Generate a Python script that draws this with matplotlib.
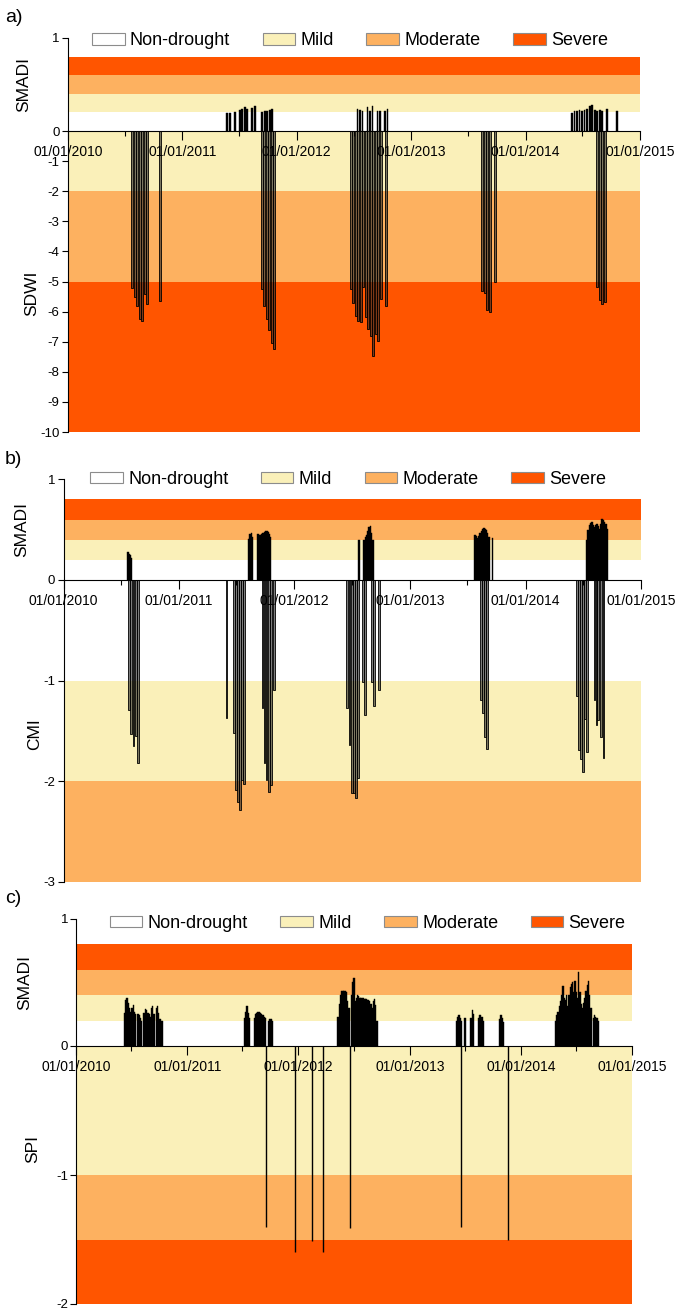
import numpy as np
import matplotlib
matplotlib.use('Agg')
import matplotlib.pyplot as plt
import matplotlib.dates as mdates
from matplotlib.patches import Patch

plt.rcParams['font.family'] = ['Liberation Sans', 'DejaVu Sans']

MILD = '#FAF0B9'
MODERATE = '#FDB160'
SEVERE = '#FF5500'

# ---- SMADI clusters: (first date, values at regular steps, None = no drought)
smadi_a = [
    ('2011-05-24', [0.197, 0.197, None, 0.207, None, 0.226, 0.237, 0.262, 0.237, None, 0.25, 0.27,
                    None, None, 0.207, 0.22, 0.22, 0.226, 0.233]),
    ('2012-07-13', [0.24, 0.23, 0.21, None, 0.26, 0.22, 0.265, None, 0.21, 0.21, None, 0.21, 0.24]),
    ('2014-05-29', [0.197, 0.21, 0.22, 0.226, 0.21, 0.23, 0.24, 0.265, 0.276, 0.23, 0.22, 0.225, 0.21,
                    None, 0.24, None, None, None, 0.21]),
]
smadi_b = [
    ('2010-07-23', [0.28, 0.26, 0.25, 0.22]),
    ('2011-08-10', [0.41, 0.46, 0.47, 0.43]),
    ('2011-09-08', [0.46, 0.45, 0.45, 0.46, 0.47, 0.48, 0.49, 0.49, 0.48, 0.46, 0.43]),
    ('2012-07-23', [0.40]),
    ('2012-08-08', [0.40, 0.43, 0.45, 0.49, 0.53, 0.535, 0.47, 0.40]),
    ('2013-07-25', [0.45, 0.44, 0.42, 0.44, 0.47, 0.49, 0.51, 0.52, 0.51, 0.50, 0.47, 0.43]),
    ('2013-09-19', [0.42]),
    ('2014-07-14', [0.40, 0.50, 0.55, 0.57, 0.58, 0.55, 0.53, 0.55, 0.56, 0.54, 0.51, 0.56, 0.61, 0.60,
                    0.58, 0.56, 0.51]),
]
smadi_c = [
    ('2010-06-09', [0.26, 0.36, 0.38, 0.34, 0.30, 0.27, 0.30, 0.32, 0.27, 0.25, None, 0.25, 0.24, 0.22,
                    0.20, None, 0.26, 0.29, 0.28, 0.26, 0.25, 0.23, 0.30, 0.31, 0.25, None, 0.30, 0.31,
                    0.26, 0.21, 0.20, 0.20]),
    ('2011-07-08', [0.22, 0.27, 0.31, 0.26, 0.22, None, None, None, 0.22, 0.25, 0.26, 0.27, 0.27, 0.26,
                    0.25, 0.24, 0.23, 0.22, None, None, 0.20, 0.21, 0.21, 0.20]),
    ('2012-05-10', [0.23, 0.33, 0.40, 0.43, 0.43, 0.43, 0.43, 0.42, 0.35, 0.30, None, 0.40, 0.50, 0.53,
                    0.35, 0.38, 0.40, 0.39, 0.38, 0.38, 0.38, 0.38, 0.37, 0.37, 0.36, 0.36, 0.35, 0.33,
                    0.30, 0.35, 0.37, 0.32, 0.20]),
    ('2013-06-03', [0.20, 0.23, 0.24, 0.22, 0.20, None, None, 0.22, None, None, None, None, 0.22, 0.28,
                    0.25, None, None, None, 0.22, 0.24, 0.24, 0.23, 0.20]),
    ('2013-10-23', [0.21, 0.24, 0.22, 0.19]),
    ('2014-04-25', [0.20, 0.24, 0.27, 0.31, 0.35, 0.40, 0.47, 0.38, 0.36, 0.40, 0.31, 0.40, 0.46, 0.49,
                    0.50, 0.42, 0.51, 0.42, 0.38, 0.58, 0.42, 0.33, 0.30, 0.34, 0.38, 0.43, 0.48, 0.51,
                    0.40, 0.30, None, 0.22, 0.24, 0.23, 0.22, 0.20]),
]

# ---- drought indices below the axis
sdwi_dates = ['2010-07-25', '2010-08-02', '2010-08-10', '2010-08-18', '2010-08-26', '2010-09-03',
              '2010-09-11', '2010-10-22',
              '2011-09-12', '2011-09-20', '2011-09-28', '2011-10-06', '2011-10-14', '2011-10-22',
              '2012-06-22', '2012-06-30', '2012-07-08', '2012-07-16', '2012-07-24', '2012-08-01',
              '2012-08-09', '2012-08-17', '2012-08-25', '2012-09-02', '2012-09-10', '2012-09-18',
              '2012-09-26', '2012-10-12',
              '2013-08-15', '2013-08-23', '2013-08-31', '2013-09-08', '2013-09-24',
              '2014-08-18', '2014-08-26', '2014-09-03', '2014-09-11']
sdwi_vals = [-5.2, -5.5, -5.8, -6.25, -6.3, -5.4, -5.75, -5.65,
             -5.25, -5.8, -6.25, -6.6, -7.05, -7.25,
             -5.24, -5.72, -6.13, -6.3, -6.36, -5.19, -6.19, -6.58, -6.8, -7.47, -6.74, -6.97, -5.58, -5.8,
             -5.3, -5.39, -5.96, -6.02, -5.0,
             -5.17, -5.61, -5.76, -5.67]

cmi_dates = ['2010-07-27', '2010-08-03', '2010-08-10', '2010-08-17', '2010-08-24',
             '2011-05-31', '2011-06-23', '2011-06-30', '2011-07-06', '2011-07-13', '2011-07-19', '2011-07-25',
             '2011-09-22', '2011-09-28', '2011-10-05', '2011-10-13', '2011-10-20', '2011-10-28',
             '2012-06-16', '2012-06-23', '2012-06-30', '2012-07-07', '2012-07-14', '2012-07-21',
             '2012-08-04', '2012-08-11', '2012-09-03', '2012-09-08', '2012-09-24',
             '2013-08-12', '2013-08-19', '2013-08-26', '2013-09-02',
             '2014-06-12', '2014-06-18', '2014-06-25', '2014-07-02', '2014-07-09', '2014-07-15',
             '2014-08-07', '2014-08-13', '2014-08-19', '2014-08-27', '2014-09-04']
cmi_vals = [-1.29, -1.53, -1.65, -1.55, -1.82,
            -1.37, -1.52, -2.09, -2.21, -2.29, -1.99, -2.03,
            -1.27, -1.82, -1.99, -2.11, -2.04, -1.09,
            -1.27, -1.64, -2.12, -2.12, -2.17, -1.97, -1.01, -1.34, -1.01, -1.25, -1.09,
            -1.19, -1.32, -1.56, -1.68,
            -1.15, -1.69, -1.78, -1.91, -1.38, -1.71, -1.19, -1.44, -1.39, -1.56, -1.77]

spi_dates = ['2011-09-17', '2011-12-19', '2012-02-16', '2012-03-20', '2012-06-19', '2013-06-19', '2013-11-19']
spi_vals = [-1.40, -1.60, -1.51, -1.60, -1.41, -1.40, -1.50]

labels = ['Non-drought', 'Mild', 'Moderate', 'Severe']


def expand(clusters, step):
    xs, ys = [], []
    for start, vals in clusters:
        t0 = mdates.datestr2num(start)
        for i, v in enumerate(vals):
            if v is not None:
                xs.append(t0 + i * step)
                ys.append(v)
    return np.array(xs), np.array(ys)


W, H = 682, 1311
fig = plt.figure(figsize=(W / 100, H / 100), dpi=100)
xmin = mdates.datestr2num('2010-01-01')
xmax = mdates.datestr2num('2015-01-01')


def panel(px, tag, smadi, step, swidth, low_name, low_dates, low_vals, low_width, low_style,
          bands, yticks, legx, legy, smadi_lab, low_lab):
    left, right, top, zero, bottom = px
    axb = fig.add_axes([left / W, 1 - bottom / H, (right - left) / W, (bottom - zero) / H])
    axt = fig.add_axes([left / W, 1 - zero / H, (right - left) / W, (zero - top) / H])

    # upper SMADI part
    for lo, hi, c in [(0.2, 0.4, MILD), (0.4, 0.6, MODERATE), (0.6, 0.8, SEVERE)]:
        axt.axhspan(lo, hi, color=c, lw=0, zorder=0)
    sx, sy = expand(smadi, step)
    axt.bar(sx, sy, width=swidth, color='black', edgecolor='black', linewidth=0.3, zorder=2)
    axt.set_xlim(xmin, xmax)
    axt.set_ylim(0, 1)
    axt.set_yticks([0, 1])
    axt.set_yticklabels(['0', '1'])
    for s in ['top', 'right']:
        axt.spines[s].set_visible(False)
    axt.spines['bottom'].set_zorder(5)
    axt.xaxis.set_major_locator(mdates.YearLocator())
    axt.xaxis.set_minor_locator(mdates.MonthLocator(bymonth=7))
    axt.xaxis.set_major_formatter(mdates.DateFormatter('%d/%m/%Y'))
    axt.tick_params(axis='x', which='major', length=6.5, width=0.8, pad=3.5, labelsize=10)
    axt.tick_params(axis='x', which='minor', length=3.5, width=0.8)
    axt.tick_params(axis='y', length=4, width=0.8, pad=2, labelsize=9.5)
    axt.set_ylabel('SMADI', fontsize=12.5)
    axt.yaxis.set_label_coords(smadi_lab, 0.5)

    handles = [Patch(facecolor='white', edgecolor='#8c8c8c', lw=0.8, label=labels[0]),
               Patch(facecolor=MILD, edgecolor='#8c8c8c', lw=0.8, label=labels[1]),
               Patch(facecolor=MODERATE, edgecolor='#8c8c8c', lw=0.8, label=labels[2]),
               Patch(facecolor=SEVERE, edgecolor='#8c8c8c', lw=0.8, label=labels[3])]
    axt.legend(handles=handles, ncol=4, loc='center left', bbox_to_anchor=(legx, legy),
               frameon=False, fontsize=13, handlelength=1.8, handleheight=0.6,
               handletextpad=0.3, columnspacing=1.8, borderaxespad=0, borderpad=0)

    # lower index part
    for lo, hi, c in bands:
        axb.axhspan(lo, hi, color=c, lw=0, zorder=0)
    lx = mdates.datestr2num(low_dates)
    if low_width is None:
        axb.vlines(lx, 0, low_vals, zorder=2, **low_style)
    else:
        axb.bar(lx, low_vals, width=low_width, zorder=2, **low_style)
    axb.set_xlim(xmin, xmax)
    axb.set_ylim(yticks[-1], 0)
    axb.set_yticks(yticks)
    axb.set_yticklabels([str(t) if t != int(t) else str(int(t)) for t in yticks])
    for s in ['top', 'right', 'bottom']:
        axb.spines[s].set_visible(False)
    axb.tick_params(axis='x', bottom=False, labelbottom=False)
    axb.tick_params(axis='y', length=4, width=0.8, pad=2, labelsize=9.5)
    axb.set_ylabel(low_name, fontsize=12.5)
    axb.yaxis.set_label_coords(*low_lab)

    fig.text(5 / W, 1 - (top - 20) / H, tag, fontsize=14, va='center', ha='left')


hatch_bar = dict(facecolor=(0.15, 0.15, 0.15, 0.6), edgecolor='black', linewidth=0.6)
line_bar = dict(colors='black', linewidth=1.0)

panel((68, 640, 38, 131, 432), 'a)', smadi_a, 8, 6,
      'SDWI', sdwi_dates, sdwi_vals, 6.5, hatch_bar,
      [(-2, 0, MILD), (-5, -2, MODERATE), (-10, -5, SEVERE)],
      [-1, -2, -3, -4, -5, -6, -7, -8, -9, -10], 0.042, 0.97, -0.065, (-0.05, 0.46))

panel((63.6, 641, 479.3, 580, 881.7), 'b)', smadi_b, 4, 4.6,
      'CMI', cmi_dates, cmi_vals, 5.5, hatch_bar,
      [(-2, -1, MILD), (-3, -2, MODERATE)],
      [-1, -2, -3], 0.046, 1.0, -0.06, (-0.038, 0.49))

panel((76.3, 632, 918.5, 1046, 1304), 'c)', smadi_c, 4, 4.6,
      'SPI', spi_dates, spi_vals, None, line_bar,
      [(-1, 0, MILD), (-1.5, -1, MODERATE), (-2, -1.5, SEVERE)],
      [-1, -2], 0.06, 0.96, -0.08, (-0.065, 0.6))

fig.savefig('out.png', dpi=100)
